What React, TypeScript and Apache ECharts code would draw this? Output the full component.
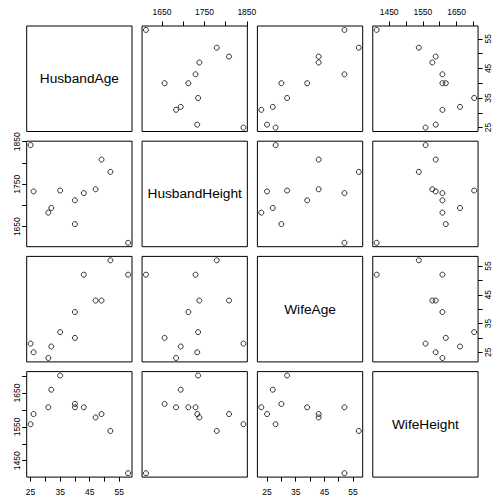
import React, { useEffect, useRef } from 'react';
import * as echarts from 'echarts';

const variables = ['HusbandAge', 'HusbandHeight', 'WifeAge', 'WifeHeight'];
const husbandAge = [58, 52, 49, 47, 43, 40, 40, 35, 31, 32, 26, 25];
const husbandHeight = [1612, 1779, 1808, 1738, 1729, 1656, 1712, 1735, 1683, 1694, 1733, 1842];
const wifeAge = [52, 57, 43, 43, 52, 30, 39, 32, 23, 27, 25, 28];
const wifeHeight = [1413, 1538, 1588, 1578, 1608, 1618, 1608, 1702, 1608, 1660, 1588, 1558];

const ageTicks = [25, 30, 35, 40, 45, 50, 55];
const ageLabels = [25, 35, 45, 55];
const hhTicks = [1650, 1700, 1750, 1800, 1850];
const hhLabels = [1650, 1750, 1850];
const whTicks = [1450, 1500, 1550, 1600, 1650, 1700];
const whLabels = [1450, 1550, 1650];

const columns = [husbandAge, husbandHeight, wifeAge, wifeHeight];
const tickSets = [ageTicks, hhTicks, ageTicks, whTicks];
const labelSets = [ageLabels, hhLabels, ageLabels, whLabels];

const FONT = 'Liberation Sans, Arial, Helvetica, sans-serif';
const LEFT0 = 26.7;
const STEP_X = 115.35;
const W = 105.3;
const TOP0 = 26;
const STEP_Y = 115.2;
const H = 105.5;

function extent(arr: number[]) {
  const mn = Math.min(...arr);
  const mx = Math.max(...arr);
  const pad = (mx - mn) * 0.04;
  return [mn - pad, mx + pad];
}

const fmt = (v: number) => String(Math.round(v));

export default function App() {
  const ref = useRef<HTMLDivElement>(null);
  useEffect(() => {
    if (!ref.current) return;
    const chart = echarts.init(ref.current, undefined, { renderer: 'svg' });
    const grids: any[] = [];
    const xAxes: any[] = [];
    const yAxes: any[] = [];
    const series: any[] = [];
    const graphics: any[] = [];
    for (let i = 0; i < 4; i++) {
      for (let j = 0; j < 4; j++) {
        const k = i * 4 + j;
        const left = LEFT0 + STEP_X * j;
        const top = TOP0 + STEP_Y * i;
        grids.push({
          left, top, width: W, height: H,
          show: true, borderColor: '#000', borderWidth: 1, backgroundColor: 'transparent',
        });
        const showX = (i === 0 && j % 2 === 1) || (i === 3 && j % 2 === 0);
        const showY = (j === 0 && i % 2 === 1) || (j === 3 && i % 2 === 0);
        const [xmin, xmax] = extent(columns[j]);
        const [ymin, ymax] = extent(columns[i]);
        xAxes.push({
          type: 'value', gridIndex: k, min: xmin, max: xmax,
          position: i === 0 ? 'top' : 'bottom',
          show: showX,
          axisLine: { show: false },
          splitLine: { show: false },
          axisTick: { show: true, length: 4.5, inside: false, lineStyle: { color: '#000', width: 1 }, customValues: tickSets[j] },
          axisLabel: { show: true, margin: 10, fontSize: 8.5, color: '#000', fontFamily: FONT, customValues: labelSets[j], formatter: fmt },
        });
        yAxes.push({
          type: 'value', gridIndex: k, min: ymin, max: ymax,
          position: j === 0 ? 'left' : 'right',
          show: showY,
          axisLine: { show: false },
          splitLine: { show: false },
          axisTick: { show: true, length: 4.5, inside: false, lineStyle: { color: '#000', width: 1 }, customValues: tickSets[i] },
          axisLabel: { show: true, margin: 10, rotate: 90, fontSize: 8.5, color: '#000', fontFamily: FONT, customValues: labelSets[i], align: 'center', verticalAlign: 'middle', formatter: fmt },
        });
        if (i === j) {
          graphics.push({
            type: 'text',
            x: left + W / 2,
            y: top + H / 2,
            style: { text: variables[i], fontSize: 13.7, fontFamily: FONT, fill: '#000', align: 'center', verticalAlign: 'middle' },
          });
        } else {
          series.push({
            type: 'scatter',
            xAxisIndex: k, yAxisIndex: k,
            symbol: 'circle', symbolSize: 5,
            itemStyle: { color: 'rgba(0,0,0,0)', borderColor: '#000', borderWidth: 1 },
            data: columns[j].map((v, n) => [v, columns[i][n]]),
          });
        }
      }
    }
    chart.setOption({
      animation: false,
      backgroundColor: '#fff',
      grid: grids,
      xAxis: xAxes,
      yAxis: yAxes,
      series,
      graphic: graphics,
    });
    return () => chart.dispose();
  }, []);
  return <div ref={ref} style={{ position: 'absolute', left: 0, top: 0, width: 498, height: 497 }} />;
}
